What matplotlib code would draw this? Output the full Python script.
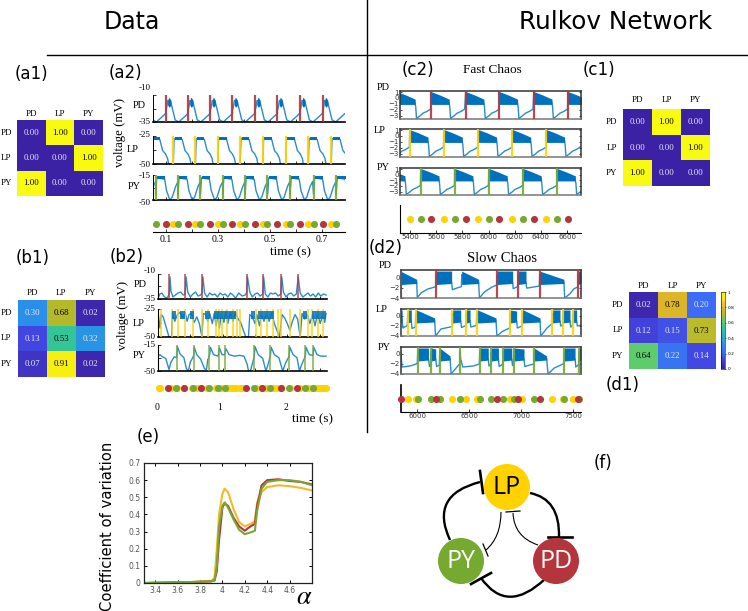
# Data vs Rulkov network summary figure

import matplotlib
matplotlib.use('Agg')
import matplotlib.pyplot as plt
import numpy as np
from matplotlib.colors import LinearSegmentedColormap
from matplotlib.patches import Circle, PathPatch
from matplotlib.path import Path

W, H = 748, 611

RED = '#b5353c'
YEL = '#ffd200'
GRN = '#76a92f'
BLUE = '#0072bd'
LBLUE = '#2b8ccb'

neurons = ['PD', 'LP', 'PY']

# transition matrices
a1_vals = [[0.00, 1.00, 0.00], [0.00, 0.00, 1.00], [1.00, 0.00, 0.00]]
b1_vals = [[0.30, 0.68, 0.02], [0.13, 0.53, 0.32], [0.07, 0.91, 0.02]]
c1_vals = [[0.00, 1.00, 0.00], [0.00, 0.00, 1.00], [1.00, 0.00, 0.00]]
d1_vals = [[0.02, 0.78, 0.20], [0.12, 0.15, 0.73], [0.64, 0.22, 0.14]]

# (a2) burst onsets in seconds
a_pd_on = [0.099, 0.184, 0.270, 0.355, 0.442, 0.528, 0.615, 0.702]
a_lp_on = [0.128, 0.213, 0.299, 0.385, 0.472, 0.560, 0.647, 0.735]
a_py_on = [0.060, 0.146, 0.232, 0.318, 0.404, 0.490, 0.577, 0.667, 0.754]

# one cycle of each trace, time after onset
a_pd_off = [0.0, 0.004, 0.008, 0.020, 0.027, 0.036, 0.050, 0.0865]
a_pd_v = [-25, -21, -15, -17, -24, -33, -35, -27]
a_pd_bt = [0.007, 0.011, 0.015, 0.020]
a_pd_top = [-16, -12, -13, -15]
a_pd_low = [-19, -21, -21, -19]

a_lp_off = [0.0, 0.003, 0.007, 0.034, 0.045, 0.056, 0.064, 0.068, 0.083, 0.0865]
a_lp_v = [-50, -28, -27, -28, -38, -41, -45, -50, -50, -50]
a_lp_bt = [0.006, 0.034]
a_lp_top = [-25.5, -25.5]
a_lp_low = [-28.5, -28.5]

a_py_off = [0.0, 0.004, 0.035, 0.042, 0.055, 0.064, 0.077, 0.0865]
a_py_v = [-42, -19, -21, -37, -50, -46, -31, -24]
a_py_bt = [0.005, 0.036]
a_py_top = [-17, -17]
a_py_low = [-21, -21]

a_ticks = [0.1, 0.2, 0.3, 0.4, 0.5, 0.6, 0.7]

# (b2) irregular data traces
b_pd_on = [0.175, 0.42, 0.678, 1.37, 1.62, 1.90, 2.16]
b_lp_on = [0.05, 0.21, 0.31, 0.42, 0.54, 0.68, 0.77, 0.90, 0.95, 0.99, 1.07, 1.16, 1.22, 1.27,
           1.52, 1.60, 1.68, 1.78, 1.85, 1.90, 2.04, 2.20, 2.32, 2.39, 2.48, 2.56]
b_lp_extra = [0.03, 0.62, 1.1, 1.2, 1.3, 2.45, 2.5, 2.55, 2.6]
b_py_on = [0.293, 0.55, 0.795, 0.94, 1.04, 1.49, 1.74, 2.03, 2.28, 2.40]
b_pd = [(0.0, -34), (0.03, -30), (0.06, -29), (0.09, -32), (0.12, -34), (0.15, -33), (0.175, -30),
        (0.185, -13), (0.2, -27), (0.23, -33), (0.27, -31), (0.31, -29), (0.35, -28), (0.39, -31),
        (0.42, -30), (0.435, -13), (0.46, -28), (0.5, -33), (0.54, -30), (0.58, -28), (0.62, -32),
        (0.66, -31), (0.68, -29), (0.695, -13), (0.72, -29), (0.76, -33), (0.8, -29), (0.84, -31),
        (0.88, -30), (0.92, -33), (0.96, -29), (1.0, -31), (1.04, -30), (1.08, -33), (1.12, -29),
        (1.16, -31), (1.2, -34), (1.25, -29), (1.3, -32), (1.35, -31), (1.37, -29), (1.385, -13),
        (1.42, -28), (1.46, -33), (1.5, -30), (1.54, -29), (1.58, -32), (1.62, -30), (1.635, -13),
        (1.66, -30), (1.7, -33), (1.74, -29), (1.78, -30), (1.82, -29), (1.86, -32), (1.9, -30),
        (1.915, -13), (1.94, -28), (1.98, -33), (2.02, -30), (2.06, -29), (2.1, -32), (2.14, -30),
        (2.17, -13), (2.2, -29), (2.24, -33), (2.28, -31), (2.32, -29), (2.36, -32), (2.4, -30),
        (2.44, -33), (2.48, -29), (2.52, -32), (2.56, -30), (2.6, -31)]
b_lp = [(0.0, -28), (0.03, -42), (0.05, -30), (0.08, -32), (0.11, -38), (0.14, -44), (0.17, -50),
        (0.21, -50), (0.22, -29), (0.26, -36), (0.3, -30), (0.34, -28), (0.38, -33), (0.42, -28),
        (0.45, -36), (0.48, -30), (0.52, -29), (0.56, -37), (0.6, -32), (0.64, -38), (0.68, -50),
        (0.7, -29), (0.74, -30), (0.77, -36), (0.8, -29), (0.84, -38), (0.87, -29), (0.9, -40),
        (0.93, -28), (0.95, -42), (0.98, -29), (1.02, -37), (1.05, -27), (1.08, -38), (1.12, -28),
        (1.16, -36), (1.2, -28), (1.24, -34), (1.28, -37), (1.32, -44), (1.36, -50), (1.4, -50),
        (1.42, -30), (1.46, -32), (1.5, -38), (1.53, -30), (1.57, -40), (1.6, -30), (1.64, -36),
        (1.68, -29), (1.72, -36), (1.76, -28), (1.8, -38), (1.84, -44), (1.88, -50), (1.92, -30),
        (1.96, -33), (2.0, -38), (2.04, -44), (2.08, -36), (2.12, -30), (2.16, -34), (2.2, -50),
        (2.23, -29), (2.27, -34), (2.31, -30), (2.35, -38), (2.39, -30), (2.43, -40), (2.47, -29),
        (2.51, -38), (2.55, -30), (2.58, -37), (2.6, -29)]
b_lp_bands = [(0.22, 0.28), (0.34, 0.42), (0.5, 0.56), (0.72, 0.8), (0.86, 1.2), (1.44, 1.5),
              (1.55, 1.8), (2.25, 2.3), (2.38, 2.6)]
b_py = [(0.0, -30), (0.03, -28), (0.07, -31), (0.12, -33), (0.17, -48), (0.2, -38), (0.25, -31),
        (0.29, -32), (0.3, -17), (0.34, -27), (0.4, -32), (0.44, -47), (0.47, -50), (0.5, -38),
        (0.55, -30), (0.56, -18), (0.6, -28), (0.66, -34), (0.72, -47), (0.75, -48), (0.77, -35),
        (0.8, -28), (0.81, -18), (0.86, -28), (0.93, -30), (0.95, -19), (0.99, -28), (1.03, -28),
        (1.05, -20), (1.1, -28), (1.18, -30), (1.26, -29), (1.33, -30), (1.38, -41), (1.4, -50),
        (1.43, -50), (1.47, -37), (1.49, -30), (1.5, -17), (1.55, -28), (1.62, -33), (1.67, -50),
        (1.7, -42), (1.74, -29), (1.75, -18), (1.8, -28), (1.87, -32), (1.93, -50), (1.97, -40),
        (2.03, -30), (2.04, -18), (2.09, -28), (2.15, -32), (2.19, -50), (2.22, -42), (2.28, -30),
        (2.29, -18), (2.34, -28), (2.4, -29), (2.41, -18), (2.46, -28), (2.52, -30), (2.6, -30)]
b_ticks = [0, 0.5, 1, 1.5, 2, 2.5]

# (c2) fast chaos
c_pd_on = [5560, 5825, 6082, 6345, 6607]
c_lp_on = [5398, 5660, 5922, 6182, 6441]
c_py_on = [5482, 5741, 6003, 6263, 6523]
c_off = [0, 3, 138, 144, 150, 175, 200, 230, 258]
c_v = [1.0, -0.8, -0.8, -1.5, -3.5, -3.1, -2.6, -2.3, -1.9]
c_bt = [0, 30, 70, 140]
c_top = [1.1, 0.85, 0.5, -0.2]
c_low = [-1.1, -1.1, -1.1, -1.1]
c_ticks = [5400, 5600, 5800, 6000, 6200, 6400, 6600]

# (d2) slow chaos, slow part of the trace and the bursts (start, end, top at start, top at end)
d_pd_on = [5849, 6183, 6769, 6971, 7179, 7548]
d_lp_on = [5910, 5987, 6333, 6474, 6574, 6891, 7013, 7298, 7400, 7497]
d_py_on = [6006, 6135, 6218, 6413, 6602, 6715, 6830, 6929, 7125, 7417, 7558]
d_pd = [(5849, 0.5), (5997, -1.0), (6003, -3.9), (6040, -3.0), (6100, -2.3), (6183, -1.8), (6186, 0.5),
        (6333, -1.0), (6340, -2.4), (6380, -2.1), (6427, -1.8), (6430, 0.5), (6593, -1.0), (6600, -4.0),
        (6650, -2.8), (6720, -1.9), (6767, -1.5), (6770, 0.5), (6920, -1.0), (6925, -2.2), (6968, -1.8),
        (6972, 0.5), (7048, -1.0), (7055, -2.1), (7176, -1.7), (7180, 0.5), (7413, -1.0), (7420, -4.0),
        (7470, -3.2), (7510, -2.2), (7545, -1.9), (7549, 0.5), (7577, 0.0)]
d_pd_b = [(5849, 5997, 1.1, -0.4), (6185, 6333, 1.2, 1.2), (6429, 6593, 1.2, -0.4), (6769, 6920, 1.2, 1.2),
          (6971, 7048, 1.2, 1.2), (7179, 7413, 1.2, -0.4), (7548, 7577, 1.2, 1.2)]
d_lp = [(5846, 0.5), (5857, -1.0), (5865, -2.4), (5907, -1.9), (5911, 0.5), (5945, -1.0), (5952, -2.5),
        (5984, -2.2), (5988, 0.5), (6170, -1.0), (6178, -4.0), (6230, -2.6), (6340, -2.1), (6343, 0.5),
        (6420, -1.0), (6428, -2.3), (6471, -1.9), (6475, 0.5), (6510, -1.0), (6518, -2.2), (6571, -1.9),
        (6575, 0.5), (6760, -1.0), (6768, -4.0), (6820, -3.1), (6891, -2.4), (6894, 0.5), (6958, -1.0),
        (6965, -2.4), (7010, -2.0), (7014, 0.5), (7183, -1.0), (7190, -4.0), (7250, -2.4), (7301, -1.5),
        (7304, 0.5), (7375, -1.0), (7382, -2.0), (7400, -1.8), (7402, 0.5), (7471, -1.0), (7478, -2.2),
        (7495, -2.0), (7497, 0.5), (7535, -1.0), (7542, -2.0), (7577, -1.8)]
d_lp_b = [(5846, 5857, 1.2, 1.2), (5910, 5945, 1.2, 1.2), (5987, 6170, 1.3, -0.4), (6343, 6420, 1.2, 1.2),
          (6474, 6510, 1.2, 1.2), (6574, 6760, 1.3, -0.4), (6894, 6958, 1.2, 1.0), (7013, 7183, 1.3, -0.4),
          (7304, 7375, 1.2, 1.2), (7400, 7471, 1.2, 1.2), (7497, 7535, 1.2, 1.2)]
d_py = [(5846, 0.3), (5855, -2.6), (5900, -2.5), (5950, -2.3), (6003, -1.9), (6007, 0.5), (6110, -1.0),
        (6120, -2.5), (6133, -2.2), (6136, 0.5), (6180, -1.0), (6188, -2.5), (6215, -2.2), (6219, 0.5),
        (6318, -1.0), (6328, -4.0), (6380, -2.7), (6410, -2.0), (6414, 0.5), (6420, -1.0), (6440, -2.6),
        (6540, -2.4), (6600, -2.0), (6603, 0.5), (6685, -1.0), (6692, -2.4), (6713, -2.0), (6716, 0.5),
        (6783, -1.0), (6790, -2.5), (6828, -2.0), (6831, 0.5), (6911, -1.0), (6918, -2.3), (6927, -2.0),
        (6930, 0.5), (7029, -1.0), (7036, -2.5), (7123, -2.0), (7126, 0.5), (7247, -1.0), (7260, -4.0),
        (7320, -2.8), (7415, -1.9), (7418, 0.5), (7520, -1.0), (7527, -2.6), (7555, -2.1), (7559, 0.5),
        (7577, 0.0)]
d_py_b = [(6007, 6110, 1.2, 1.2), (6136, 6180, 1.2, 1.0), (6219, 6318, 1.2, -0.4), (6603, 6685, 1.2, 1.2),
          (6716, 6783, 1.2, 1.2), (6831, 6911, 1.2, 1.2), (6930, 7029, 1.2, 1.0), (7126, 7247, 1.2, -0.4),
          (7418, 7520, 1.2, 1.2), (7559, 7577, 1.2, 1.2)]
d_ticks = [6000, 6500, 7000, 7500]

# (e) coefficient of variation
alpha = [3.3, 3.7, 3.9, 3.93, 3.95, 3.97, 4.0, 4.02, 4.05, 4.1, 4.15, 4.2, 4.25, 4.29, 4.31, 4.35, 4.4, 4.5, 4.6, 4.7, 4.8]
cv_pd = [0, .005, .01, .015, .07, .25, .44, .465, .45, .38, .33, .305, .33, .345, .45, .57, .6, .605, .595, .59, .575]
cv_lp = [0, .005, .01, .03, .2, .4, .52, .55, .53, .43, .355, .33, .345, .36, .47, .53, .56, .57, .565, .555, .54]
cv_py = [0, .005, .01, .015, .1, .33, .45, .47, .44, .37, .31, .285, .295, .305, .42, .55, .59, .6, .6, .59, .57]
e_xticks = [3.4, 3.6, 3.8, 4, 4.2, 4.4, 4.6]
e_yticks = [0, .1, .2, .3, .4, .5, .6, .7]

# (f) circuit diagram in pixels of the figure
node_xy = {'LP': (507, 487), 'PY': (461, 561), 'PD': (556, 561)}
node_col = {'LP': YEL, 'PY': GRN, 'PD': RED}
node_txt = {'LP': 'black', 'PY': 'white', 'PD': 'white'}
edge_curves = [  # start, control, end, width
    ((530, 493), (560, 499), (559, 537), 1.7),
    ((545, 579), (507, 615), (481, 578), 1.7),
    ((450, 540), (429, 495), (480, 482), 1.7),
    ((501, 512), (501, 537), (486, 550), 0.8),
    ((538, 545), (514, 537), (513, 513), 0.8),
]
edge_bars = [
    ((548, 537), (572, 537), 1.9),
    ((471, 584), (491, 573), 1.9),
    ((480, 471), (483, 493), 1.9),
    ((483, 544), (488, 556), 0.9),
    ((506, 512), (520, 511), 0.9),
]

parula = LinearSegmentedColormap.from_list('parula_like', [
    (0.00, '#3b22a5'), (0.13, '#4346e0'), (0.20, '#3c6cf5'), (0.30, '#2a90ea'),
    (0.42, '#27b0c8'), (0.53, '#35c696'), (0.64, '#5fcc6c'), (0.68, '#b4b82c'), (0.73, '#bbbb2a'),
    (0.78, '#dcb52a'), (0.86, '#f5cf20'), (0.91, '#f8f010'), (1.00, '#f8fa0f')])

fig = plt.figure(figsize=(W / 100, H / 100), dpi=100)


def px_ax(x0, y0, x1, y1, **kw):
    return fig.add_axes([x0 / W, 1 - y1 / H, (x1 - x0) / W, (y1 - y0) / H], **kw)


def ftext(x, y, s, size=8, family='Liberation Serif', color='black', ha='center', **kw):
    fig.text(x / W, 1 - y / H, s, fontsize=size, family=family, color=color, ha=ha, va='center', **kw)


def heat(vals, x0, y0, x1, y1, laby, rowx):
    ax = px_ax(x0, y0, x1, y1)
    vals = np.array(vals)
    ax.imshow(vals, cmap=parula, vmin=0, vmax=1, aspect='auto')
    ax.set_xticks([])
    ax.set_yticks([])
    for s in ax.spines.values():
        s.set_visible(False)
    for i in range(3):
        for j in range(3):
            col = 'black' if vals[i, j] > 0.4 else '#e8e8f8'
            ax.text(j, i, '%.2f' % vals[i, j], color=col, fontsize=6.3, family='Liberation Serif',
                    ha='center', va='center')
    cw = (x1 - x0) / 3
    ch = (y1 - y0) / 3
    for i, n in enumerate(neurons):
        ftext(x0 + cw * (i + 0.5), laby, n, size=6.5)
        ftext(rowx, y0 + ch * (i + 0.5), n, size=6.5)
    return ax


def small_axis(ax, ticks=None):
    ax.tick_params(axis='both', direction='in', length=2, width=0.7, labelsize=5, colors='#333333', pad=1.5)
    if ticks is not None:
        ax.set_xticks(ticks)
    ax.set_xticklabels([])


def events(ax, onsets, col, lw=1.6):
    for t in onsets:
        ax.axvline(t, color=col, lw=lw, alpha=0.9, zorder=3)


def periodic_trace(ax, cycles, off, v, bt, top, low, lw=1.0):
    off = np.array(off)
    bt = np.array(bt)
    xs = np.concatenate([s + off for s in cycles])
    ys = np.tile(v, len(cycles))
    ax.plot(xs, ys, color=LBLUE, lw=lw, zorder=2)
    for s in cycles:
        ax.fill_between(s + bt, low, top, color=BLUE, lw=0, zorder=2)


def a_panel(box, ylim, yt, cycles, off, v, bt, top, low, on, col):
    ax = px_ax(*box)
    periodic_trace(ax, cycles, off, v, bt, top, low)
    events(ax, on, col)
    ax.set_xlim(0.05, 0.788)
    ax.set_ylim(*ylim)
    small_axis(ax, a_ticks)
    ax.set_yticks(yt)
    ax.set_yticklabels([])
    ax.spines['top'].set_visible(False)
    ax.spines['right'].set_visible(False)
    ax.spines['bottom'].set_linewidth(1.2)
    ax.spines['left'].set_linewidth(0.7)
    return ax


def box_panel(box, xlim, ylim, yt):
    ax = px_ax(*box)
    ax.set_xlim(*xlim)
    ax.set_ylim(*ylim)
    ax.tick_params(axis='both', direction='in', length=1.5, width=0.6, labelsize=5, colors='#333333',
                   pad=1, right=True)
    ax.set_xticks([])
    ax.set_yticks(yt)
    for s in ax.spines.values():
        s.set_linewidth(1.1)
        s.set_color('#333333')
    ax.spines['bottom'].set_color('#777777')
    return ax


def dots(box, xlim, series, ticks, y, left=False, s=26):
    ax = px_ax(*box)
    ax.set_xlim(*xlim)
    ax.set_ylim(0, 1)
    for on, col in series:
        ax.scatter(on, [y] * len(on), s=s, color=col, lw=0, zorder=3, clip_on=False)
    ax.spines['top'].set_visible(False)
    ax.spines['right'].set_visible(False)
    ax.spines['left'].set_visible(left)
    ax.set_yticks([])
    ax.set_xticks(ticks)
    ax.tick_params(axis='x', direction='in', length=2, width=0.7, labelsize=5.5, colors='#333333', pad=2)
    return ax


# header lines and titles
frame = px_ax(0, 0, W, H)
frame.set_xlim(0, W)
frame.set_ylim(H, 0)
frame.axis('off')
frame.plot([47, W], [55, 55], color='black', lw=1.0)
frame.plot([367, 367], [0, 432], color='black', lw=1.0)
ftext(132, 22, 'Data', size=17, family='DejaVu Sans')
ftext(616, 22, 'Rulkov Network', size=17.8, family='DejaVu Sans')
ftext(492, 70, 'Fast Chaos', size=9.5)
ftext(502, 258, 'Slow Chaos', size=10.5)

for x, y, s in [(31, 74, '(a1)'), (125, 73, '(a2)'), (33, 258, '(b1)'), (127, 257, '(b2)'),
                (418, 70, '(c2)'), (599, 70, '(c1)'), (386, 248, '(d2)'), (623, 385, '(d1)'),
                (148, 437, '(e)'), (603, 463, '(f)')]:
    ftext(x, y, s, size=12, family='DejaVu Sans')

# heatmaps
heat(a1_vals, 17, 120, 103, 196, 114, 6)
heat(b1_vals, 18, 300, 105, 377, 293, 6)
heat(c1_vals, 623, 109, 710, 186, 100, 612)
heat(d1_vals, 629, 292, 716, 369, 286, 618)

cax = px_ax(721, 292, 725, 369)
cax.imshow(np.linspace(1, 0, 128)[:, None], cmap=parula, aspect='auto', extent=[0, 1, 0, 1])
cax.set_xticks([])
cax.yaxis.tick_right()
cax.set_yticks([0, 0.2, 0.4, 0.6, 0.8, 1])
cax.set_yticklabels(['0', '0.2', '0.4', '0.6', '0.8', '1'])
cax.tick_params(axis='y', length=1, width=0.4, labelsize=3.2, pad=0.8)
for s in cax.spines.values():
    s.set_linewidth(0.4)

# (a2)
a_panel((153, 95, 345, 122), (-35, -10), [-35, -22.5, -10], [0.013] + a_pd_on,
        a_pd_off, a_pd_v, a_pd_bt, a_pd_top, a_pd_low, a_pd_on, RED)
a_panel((153, 136, 345, 164), (-50, -25), [-50, -37.5, -25], [0.042] + a_lp_on,
        a_lp_off, a_lp_v, a_lp_bt, a_lp_top, a_lp_low, a_lp_on, YEL)
a_panel((153, 175, 345, 200), (-50, -15), [-50, -32.5, -15], [-0.026] + a_py_on,
        a_py_off, a_py_v, a_py_bt, a_py_top, a_py_low, a_py_on, GRN)
for y, s in [(88, '-10'), (122, '-35'), (135, '-25'), (165, '-50'), (176, '-15'), (203, '-50')]:
    ftext(151, y, s, size=6.5, ha='right')
ftext(139, 106, 'PD', size=7.5)
ftext(133, 149, 'LP', size=7.5)
ftext(134, 187, 'PY', size=7.5)
ftext(120, 132, 'voltage (mV)', size=9.3, rotation=90)
ax = dots((153, 215, 345, 232), (0.05, 0.788), [(a_lp_on, YEL), (a_py_on, GRN), (a_pd_on, RED)], a_ticks, 0.47)
ax.set_xticklabels([])
for t, s in [(0.1, '0.1'), (0.3, '0.3'), (0.5, '0.5'), (0.7, '0.7')]:
    ftext(166 + (t - 0.1) * 260, 239, s, size=7)
ftext(291, 252, 'time (s)', size=9.5)

# (b2)
for box, ylim, yt, pts, on, col in [
    ((158, 274, 327, 299), (-35, -10), [-35, -22.5, -10], b_pd, b_pd_on, RED),
    ((158, 309, 327, 337), (-50, -25), [-50, -37.5, -25], b_lp, b_lp_on, YEL),
    ((158, 345, 327, 371), (-50, -15), [-50, -32.5, -15], b_py, b_py_on, GRN),
]:
    ax = px_ax(*box)
    pts = np.array(pts)
    ax.plot(pts[:, 0], pts[:, 1], color=LBLUE, lw=1.0, zorder=2)
    events(ax, on, col, lw=1.1)
    if pts is not None and col == YEL:
        for t0, t1 in b_lp_bands:
            ax.fill_between([t0, t1], -34, -27, color=BLUE, lw=0, zorder=4, alpha=0.85)
    ax.set_xlim(0.015, 2.615)
    ax.set_ylim(*ylim)
    small_axis(ax, b_ticks)
    ax.set_yticks(yt)
    ax.set_yticklabels([])
    ax.spines['top'].set_visible(False)
    ax.spines['right'].set_visible(False)
    ax.spines['bottom'].set_linewidth(1.2)
for y, s in [(271, '-10'), (299, '-35'), (309, '-25'), (337, '-50'), (345, '-15'), (372, '-50')]:
    ftext(156, y, s, size=6.5, ha='right')
ftext(140, 285, 'PD', size=7.5)
ftext(139, 323, 'LP', size=7.5)
ftext(139, 356, 'PY', size=7.5)
ftext(123, 315, 'voltage (mV)', size=9.3, rotation=90)
ax = dots((157, 378, 330, 400), (0, 2.66), [(b_lp_on + b_lp_extra, YEL), (b_py_on, GRN), (b_pd_on, RED)], [], 0.55)
ax.spines['bottom'].set_visible(False)
for x, s in [(157, '0'), (220, '1'), (286, '2')]:
    ftext(x, 408, s, size=7)
ftext(313, 419, 'time (s)', size=9.5)

# (c2)
c_xlim = (5324, 6706)
for box, on, col in [((400, 91, 581, 119), c_pd_on, RED), ((400, 129, 581, 157), c_lp_on, YEL),
                     ((400, 168, 581, 195), c_py_on, GRN)]:
    ax = box_panel(box, c_xlim, (-3.6, 1.2), [1, 0, -1, -2, -3])
    periodic_trace(ax, [on[0] - 260] + on, c_off, c_v, c_bt, c_top, c_low)
    events(ax, on, col)
ftext(383, 87, 'PD', size=7.5)
ftext(380, 131, 'LP', size=7.5)
ftext(383, 168, 'PY', size=7.5)
ax = dots((400, 205, 581, 233), c_xlim, [(c_lp_on, YEL), (c_py_on, GRN), (c_pd_on, RED)], c_ticks, 0.5, left=True)
ax.set_xticklabels([str(t) for t in c_ticks])
ax.tick_params(axis='x', labelsize=5, pad=1)

# (d2)
d_xlim = (5846, 7577)
for box, on, col, trace, bursts in [((401, 270, 581, 298), d_pd_on, RED, d_pd, d_pd_b),
                                    ((401, 309, 581, 336), d_lp_on, YEL, d_lp, d_lp_b),
                                    ((401, 347, 581, 374), d_py_on, GRN, d_py, d_py_b)]:
    ax = box_panel(box, d_xlim, (-4, 1.4), [0, -2, -4])
    trace = np.array(trace)
    ax.plot(trace[:, 0], trace[:, 1], color=LBLUE, lw=1.0, zorder=2)
    for t0, t1, y0, y1 in bursts:
        ax.fill_between([t0, t1], [-1.4, -1.2], [y0, y1], color=BLUE, lw=0, zorder=2)
    events(ax, on, col)
ftext(385, 266, 'PD', size=7.5)
ftext(382, 309, 'LP', size=7.5)
ftext(384, 347, 'PY', size=7.5)
ax = dots((401, 385, 581, 412), d_xlim, [(d_lp_on, YEL), (d_py_on, GRN), (d_pd_on, RED)], d_ticks, 0.48, left=True)
ax.set_xticklabels([str(t) for t in d_ticks])
ax.tick_params(axis='x', labelsize=5, pad=1)
ax.spines['left'].set_linewidth(1.2)

# (e)
ax = px_ax(144, 463, 312, 583)
ax.plot(alpha, cv_lp, color='#f4b92a', lw=1.5)
ax.plot(alpha, cv_pd, color=RED, lw=1.5)
ax.plot(alpha, cv_py, color=GRN, lw=1.5)
ax.set_xlim(3.3, 4.8)
ax.set_ylim(0, 0.7)
ax.set_xticks(e_xticks)
ax.set_yticks(e_yticks)
ax.set_xticklabels(['3.4', '3.6', '3.8', '4', '4.2', '4.4', '4.6'])
ax.set_yticklabels(['0', '0.1', '0.2', '0.3', '0.4', '0.5', '0.6', '0.7'])
ax.tick_params(axis='both', direction='in', length=2, width=0.7, labelsize=5.5, labelcolor='#555555',
               top=True, right=True, pad=2.5)
for s in ax.spines.values():
    s.set_linewidth(0.9)
    s.set_color('#222222')
ftext(108, 526, 'Coefficient of variation', size=10.6, family='DejaVu Sans', rotation=90)
ftext(304, 598, r'$\alpha$', size=19, math_fontfamily='stix')

# (f)
net = frame
for p0, pc, p1, lw in edge_curves:
    net.add_patch(PathPatch(Path([p0, pc, p1], [Path.MOVETO, Path.CURVE3, Path.CURVE3]),
                            fill=False, lw=lw, color='black', zorder=4))
for p0, p1, lw in edge_bars:
    net.plot([p0[0], p1[0]], [p0[1], p1[1]], color='black', lw=lw, zorder=4)
for name, (cx, cy) in node_xy.items():
    net.add_patch(Circle((cx, cy), 23, color=node_col[name], lw=0, zorder=5))
    net.text(cx, cy + 1, name, color=node_txt[name], fontsize=18, family='Open Sans', ha='center', va='center',
             zorder=6)

fig.savefig('out.png', dpi=100)
